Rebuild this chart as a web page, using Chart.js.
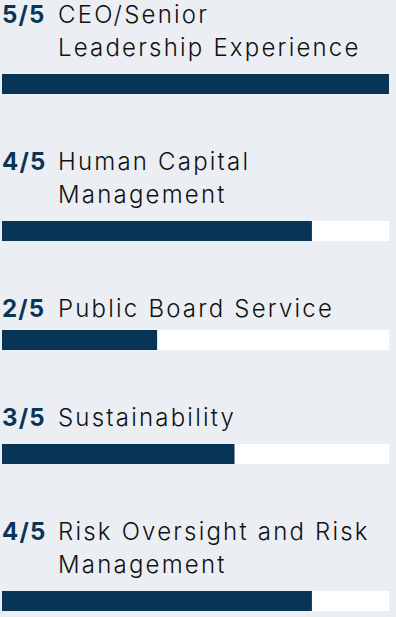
<!DOCTYPE html>
<html lang="en">
<head>
    <meta charset="UTF-8">
    <title>Board Skills</title>
    <script src="https://cdn.jsdelivr.net/npm/chart.js"></script>
    <style>
        body {
            margin: 0;
            background: #ebeff3;
            font-family: Inter, Lato, sans-serif;
            width: 396px;
            overflow: hidden;
        }
        #rows {
            margin-top: -2px;
        }
        .row {
            margin-bottom: 51px;
        }
        .label {
            display: flex;
            font-size: 24px;
            line-height: 33px;
            letter-spacing: 2.2px;
        }
        .score {
            width: 56px;
            flex: none;
            padding-left: 2px;
            color: #0b3558;
            font-weight: 700;
            letter-spacing: 1.2px;
        }
        .text {
            color: #111111;
            font-weight: 300;
        }
        .bar {
            position: relative;
            width: 387px;
            height: 20px;
            margin-left: 2px;
            margin-top: 10px;
        }
        /* the single line row 3 sits a bit tighter in the original */
        .row:nth-child(3) .bar {
            margin-top: 5px;
        }
    </style>
</head>
<body>

<div id="rows"></div>

<script>
    const categories = [
        ['CEO/Senior', 'Leadership Experience'],
        ['Human Capital', 'Management'],
        ['Public Board Service'],
        ['Sustainability'],
        ['Risk Oversight and Risk', 'Management']
    ];
    const scores = [5, 4, 2, 3, 4];
    const maxScore = 5;

    const navy = '#083456';
    const track = '#ffffff';

    const rows = document.getElementById('rows');

    categories.forEach(function(cat, i) {
        const row = document.createElement('div');
        row.className = 'row';

        const label = document.createElement('div');
        label.className = 'label';
        const score = document.createElement('span');
        score.className = 'score';
        score.textContent = scores[i] + '/' + maxScore;
        const text = document.createElement('span');
        text.className = 'text';
        text.innerHTML = cat.join('<br>');
        label.appendChild(score);
        label.appendChild(text);

        const box = document.createElement('div');
        box.className = 'bar';
        const canvas = document.createElement('canvas');
        box.appendChild(canvas);

        row.appendChild(label);
        row.appendChild(box);
        rows.appendChild(row);

        new Chart(canvas.getContext('2d'), {
            type: 'bar',
            data: {
                labels: [cat.join(' ')],
                datasets: [
                    { data: [scores[i]], backgroundColor: navy },
                    { data: [maxScore], backgroundColor: track }
                ]
            },
            options: {
                indexAxis: 'y',
                responsive: true,
                maintainAspectRatio: false,
                animation: false,
                layout: { padding: 0 },
                datasets: {
                    bar: {
                        grouped: false,
                        barPercentage: 1,
                        categoryPercentage: 1
                    }
                },
                plugins: {
                    legend: { display: false },
                    tooltip: { enabled: false }
                },
                scales: {
                    x: { min: 0, max: maxScore, display: false },
                    y: { display: false }
                }
            }
        });
    });
</script>

</body>
</html>
